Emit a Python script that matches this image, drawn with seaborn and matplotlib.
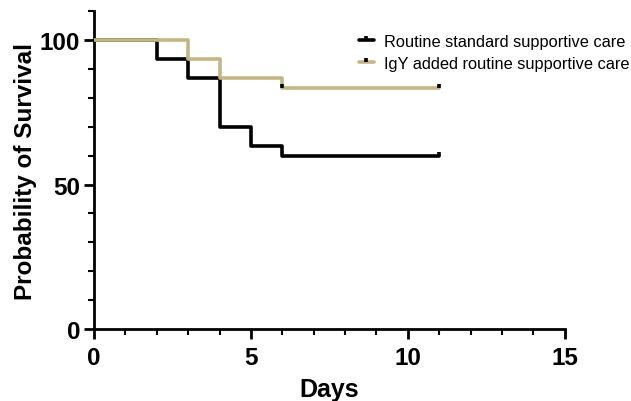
import matplotlib
matplotlib.use("Agg")
import matplotlib.pyplot as plt
import seaborn as sns
import pandas as pd
from matplotlib.path import Path
from matplotlib.lines import Line2D

# Data (Kaplan-Meier steps)
std_days = [0, 2, 3, 4, 5, 6, 11]
std_surv = [100, 93.3, 86.7, 70.0, 63.3, 60.0, 60.0]
igy_days = [0, 3, 4, 6, 11]
igy_surv = [100, 93.3, 86.7, 83.3, 83.3]
std_cens_days = [11]
std_cens_surv = [60.0]
igy_cens_days = [6, 11]
igy_cens_surv = [83.3, 83.3]
labels = ["Routine standard supportive care", "IgY added routine supportive care"]
x_ticks = [0, 5, 10, 15]
y_ticks = [0, 50, 100]

sns.set_style("ticks")
plt.rcParams['font.family'] = ['Liberation Sans', 'DejaVu Sans']
plt.rcParams['text.color'] = 'black'
plt.rcParams['axes.labelcolor'] = 'black'
plt.rcParams['xtick.color'] = 'black'
plt.rcParams['ytick.color'] = 'black'
plt.rcParams['axes.edgecolor'] = 'black'

BLACK = "#000000"
TAN = "#c4b684"

fig = plt.figure(figsize=(6.31, 4.02), dpi=100)
ax = fig.add_axes([0.149, 0.179, 0.746, 0.791])

df_std = pd.DataFrame({"Days": std_days, "Surv": std_surv})
df_igy = pd.DataFrame({"Days": igy_days, "Surv": igy_surv})

sns.lineplot(data=df_igy, x="Days", y="Surv", drawstyle="steps-post", estimator=None,
             color=TAN, lw=2.6, ax=ax, zorder=3)
sns.lineplot(data=df_std, x="Days", y="Surv", drawstyle="steps-post", estimator=None,
             color=BLACK, lw=2.6, ax=ax, zorder=2)

tick_marker = Path([(0, 0), (0, 1)], [Path.MOVETO, Path.LINETO])
sns.scatterplot(x=std_cens_days, y=std_cens_surv, marker=tick_marker, s=30,
                edgecolor=BLACK, color=BLACK, linewidth=2.6, ax=ax, zorder=4)
sns.scatterplot(x=igy_cens_days, y=igy_cens_surv, marker=tick_marker, s=30,
                edgecolor=BLACK, color=BLACK, linewidth=2.6, ax=ax, zorder=4)

ax.set_xlim(0, 15)
ax.set_ylim(0, 110)
ax.set_xticks(x_ticks)
ax.set_yticks(y_ticks)
ax.set_xticks(range(0, 16), minor=True)
ax.set_yticks(range(0, 111, 10), minor=True)
ax.tick_params(axis='both', which='major', length=7, width=2, labelsize=17.5, pad=3)
ax.tick_params(axis='x', which='major', pad=5)
ax.tick_params(axis='both', which='minor', length=4, width=1.5)
for lab in ax.get_xticklabels() + ax.get_yticklabels():
    lab.set_fontweight('bold')
for s in ["top", "right"]:
    ax.spines[s].set_visible(False)
for s in ["left", "bottom"]:
    ax.spines[s].set_linewidth(2)

ax.set_xlabel("Days", fontsize=18, fontweight='bold', labelpad=6)
ax.set_ylabel("Probability of Survival", fontsize=17.5, fontweight='bold', labelpad=2)

handles = [
    Line2D([0], [0], color=BLACK, lw=2.6, marker=tick_marker, markersize=6,
           markeredgecolor=BLACK, markeredgewidth=2.6),
    Line2D([0], [0], color=TAN, lw=2.6, marker=tick_marker, markersize=6,
           markeredgecolor=BLACK, markeredgewidth=2.6),
]
ax.legend(handles, labels, loc="upper right", bbox_to_anchor=(1.168, 0.975), frameon=False,
          fontsize=11.8, handlelength=0.9, handletextpad=0.6, labelspacing=0.45)

fig.savefig("out.png", dpi=100)
